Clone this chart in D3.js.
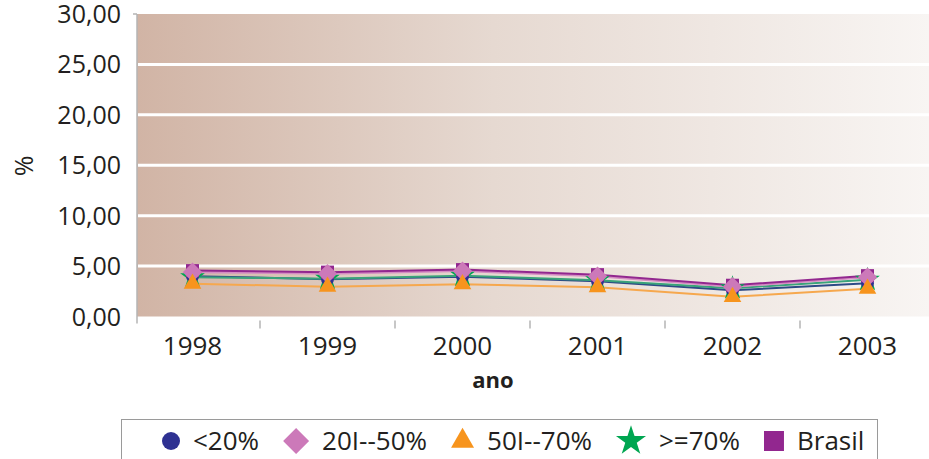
<!DOCTYPE html>
<html>
<head>
<meta charset="utf-8">
<script src="https://cdn.jsdelivr.net/npm/d3@7"></script>
<style>
  html, body { margin: 0; padding: 0; background: #fff; }
  svg { display: block; font-family: "Open Sans", sans-serif; }
</style>
</head>
<body>
<svg id="chart" width="929" height="459"></svg>
<script>
// Years on the horizontal axis
const years = ["1998", "1999", "2000", "2001", "2002", "2003"];

// Series (percent) by group
const lt20   = [4.00, 3.70, 3.95, 3.50, 2.60, 3.30];
const s20_50 = [4.40, 4.25, 4.50, 4.00, 2.95, 3.90];
const s50_70 = [3.25, 2.95, 3.20, 2.90, 1.95, 2.75];
const ge70   = [3.90, 3.75, 4.05, 3.60, 2.80, 3.65];
const brasil = [4.55, 4.40, 4.65, 4.15, 3.10, 4.05];

// Y ticks
const yTicks = [0, 5, 10, 15, 20, 25, 30];

// Square turned 45 degrees (equal width and height)
const symbolRhombus = {
  draw(ctx, size) {
    const r = Math.sqrt(size / 2);
    ctx.moveTo(0, -r); ctx.lineTo(r, 0); ctx.lineTo(0, r); ctx.lineTo(-r, 0); ctx.closePath();
  }
};

const series = [
  { name: "<20%",     values: lt20,   color: "#2e3192", line: "#2d4a86", symbol: d3.symbolCircle,   size: 130, lsize: 254, lw: 18 },
  { name: "20I--50%", values: s20_50, color: "#cc79b9", line: "#d58cc3", symbol: symbolRhombus,     size: 190, lsize: 338, lw: 26 },
  { name: "50I--70%", values: s50_70, color: "#f7941d", line: "#f6a84e", symbol: d3.symbolTriangle, size: 135, lsize: 229, lw: 23 },
  { name: ">=70%",    values: ge70,   color: "#00a651", line: "#3aa37a", symbol: d3.symbolStar,     size: 190, lsize: 280, lw: 30 },
  { name: "Brasil",   values: brasil, color: "#92278f", line: "#92278f", symbol: d3.symbolSquare,   size: 170, lsize: 400, lw: 20 }
];

// Marker stacking order (bottom to top)
const markerOrder = [">=70%", "<20%", "Brasil", "20I--50%", "50I--70%"];

const svg = d3.select("#chart");
const plot = { left: 137, right: 929, top: 14, bottom: 316.5 };

const x = d3.scaleBand().domain(years).range([125, 935]).paddingInner(0).paddingOuter(0);
const y = d3.scaleLinear().domain([0, 30]).range([plot.bottom, plot.top]);

// Background gradient
const defs = svg.append("defs");
const grad = defs.append("linearGradient").attr("id", "bg").attr("x1", "0").attr("x2", "1").attr("y1", "0").attr("y2", "0");
grad.append("stop").attr("offset", "0%").attr("stop-color", "#d1b4a5");
grad.append("stop").attr("offset", "45%").attr("stop-color", "#e6d9d1");
grad.append("stop").attr("offset", "100%").attr("stop-color", "#f8f5f3");

svg.append("rect")
  .attr("x", plot.left).attr("y", plot.top)
  .attr("width", plot.right - plot.left).attr("height", plot.bottom - plot.top)
  .attr("fill", "url(#bg)");

// White gridlines
svg.append("g").selectAll("line")
  .data(yTicks.filter(t => t > 0 && t < 30))
  .join("line")
  .attr("x1", plot.left + 1).attr("x2", plot.right)
  .attr("y1", d => y(d)).attr("y2", d => y(d))
  .attr("stroke", "#ffffff").attr("stroke-width", 3);

// Y axis line and top tick
svg.append("line")
  .attr("x1", plot.left).attr("x2", plot.left)
  .attr("y1", plot.top).attr("y2", plot.bottom + 7)
  .attr("stroke", "#b5b5b5").attr("stroke-width", 1.5);
svg.append("line")
  .attr("x1", plot.left - 4).attr("x2", plot.left)
  .attr("y1", y(30)).attr("y2", y(30))
  .attr("stroke", "#b5b5b5").attr("stroke-width", 1.5);

// Y tick labels
const fmt = v => d3.format(".2f")(v).replace(".", ",");
svg.append("g").selectAll("text")
  .data(yTicks)
  .join("text")
  .attr("x", 121).attr("y", d => y(d))
  .attr("dy", "0.36em")
  .attr("text-anchor", "end")
  .attr("font-size", 25)
  .attr("fill", "#231f20")
  .text(fmt);

// X tick marks at band boundaries
svg.append("g").selectAll("line")
  .data(years.slice(1))
  .join("line")
  .attr("x1", d => x(d)).attr("x2", d => x(d))
  .attr("y1", plot.bottom + 4).attr("y2", plot.bottom + 12)
  .attr("stroke", "#b5b5b5").attr("stroke-width", 1.5);

// X labels
svg.append("g").selectAll("text")
  .data(years)
  .join("text")
  .attr("x", d => x(d) + x.bandwidth() / 2)
  .attr("y", 355)
  .attr("text-anchor", "middle")
  .attr("font-size", 26)
  .attr("fill", "#231f20")
  .text(d => d);

// Axis titles
svg.append("text")
  .attr("x", 493).attr("y", 388)
  .attr("text-anchor", "middle")
  .attr("font-size", 22).attr("font-weight", "bold")
  .attr("fill", "#231f20")
  .text("ano");

svg.append("text")
  .attr("transform", "translate(33,166) rotate(-90)")
  .attr("text-anchor", "middle")
  .attr("font-size", 25)
  .attr("fill", "#231f20")
  .text("%");

// Lines
const cx = (d, i) => x(years[i]) + x.bandwidth() / 2;
const line = d3.line().x(cx).y(d => y(d));

svg.append("g").selectAll("path")
  .data([series[2], series[0], series[3], series[1], series[4]])
  .join("path")
  .attr("d", s => line(s.values))
  .attr("fill", "none")
  .attr("stroke", s => s.line)
  .attr("stroke-width", 2);

// Markers
const ordered = markerOrder.map(n => series.find(s => s.name === n));
ordered.forEach(s => {
  svg.append("g").selectAll("path")
    .data(s.values)
    .join("path")
    .attr("transform", (d, i) => `translate(${cx(d, i)},${y(d)})`)
    .attr("d", d3.symbol().type(s.symbol).size(s.size))
    .attr("fill", s.color);
});

// Legend
const legend = svg.append("g");
legend.append("rect")
  .attr("x", 121.5).attr("y", 419.5)
  .attr("width", 756).attr("height", 60)
  .attr("fill", "#ffffff")
  .attr("stroke", "#9a9a9a").attr("stroke-width", 1);

let lx = 162;
series.forEach(s => {
  const g = legend.append("g");
  g.append("path")
    .attr("transform", `translate(${lx + s.lw / 2},441)`)
    .attr("d", d3.symbol().type(s.symbol).size(s.lsize))
    .attr("fill", s.color);
  const t = g.append("text")
    .attr("x", lx + s.lw + 13).attr("y", 441)
    .attr("dy", "0.36em")
    .attr("font-size", 26)
    .attr("fill", "#231f20")
    .text(s.name);
  lx += s.lw + 13 + t.node().getComputedTextLength() + 24;
});
</script>
</body>
</html>
